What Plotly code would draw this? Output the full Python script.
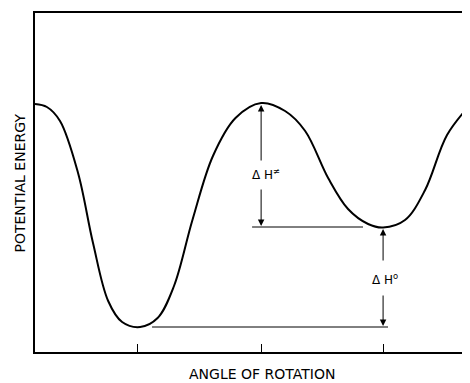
import plotly.graph_objects as go

# Curve (angle in degrees, energy in arbitrary units)
angle = [10.2, 16.0, 22.4, 31.2, 38.5, 45.9, 52.7, 61.5, 70.0, 78.0, 87.0,
         97.0, 108.0, 120.5, 132.2, 142.0, 153.2, 162.9, 172.7, 180.0,
         190.7, 200.5, 211.2, 222.4]
energy = [24.8, 24.5, 23.1, 17.9, 10.9, 5.1, 3.0, 2.5, 3.4, 6.6, 13.2,
          19.6, 23.4, 24.9, 24.1, 22.1, 17.4, 14.3, 12.8, 12.45,
          13.2, 16.2, 21.7, 24.7]

tick_angles = [60, 120.5, 180]

# Reference levels for the enthalpy arrows
e_max = 24.9
e_gauche = 12.5
e_anti = 2.5

x_title = "ANGLE OF ROTATION"
y_title = "POTENTIAL ENERGY"

fig = go.Figure()
fig.add_trace(go.Scatter(x=angle, y=energy, mode="lines",
                         line=dict(color="black", width=2, shape="spline", smoothing=1.0),
                         hoverinfo="skip", showlegend=False))

# horizontal reference lines
fig.add_trace(go.Scatter(x=[116.1, 170.2], y=[e_gauche, e_gauche], mode="lines",
                         line=dict(color="black", width=1), showlegend=False, hoverinfo="skip"))
fig.add_trace(go.Scatter(x=[67.3, 182.4], y=[e_anti, e_anti], mode="lines",
                         line=dict(color="black", width=1), showlegend=False, hoverinfo="skip"))

arrow_kw = dict(xref="x", yref="y", axref="x", ayref="y", text="", showarrow=True,
                arrowhead=2, arrowsize=1.3, arrowwidth=1, arrowcolor="black")
# Delta H double-dagger
fig.add_annotation(x=120.5, y=e_max - 0.2, ax=120.5, ay=19.0, **arrow_kw)
fig.add_annotation(x=120.5, y=e_gauche + 0.1, ax=120.5, ay=16.4, **arrow_kw)
# Delta H zero
fig.add_annotation(x=180, y=e_gauche - 0.2, ax=180, ay=9.0, **arrow_kw)
fig.add_annotation(x=180, y=e_anti + 0.1, ax=180, ay=5.8, **arrow_kw)

lab_font = dict(family="DejaVu Sans", size=12, color="black")
fig.add_annotation(x=123.0, y=17.8, xref="x", yref="y", text="Δ H<sup>≠</sup>",
                   showarrow=False, font=lab_font)
fig.add_annotation(x=181.0, y=7.3, xref="x", yref="y", text="Δ H<sup>o</sup>",
                   showarrow=False, font=lab_font)

axis_font = dict(family="DejaVu Sans", size=14, color="black")
fig.add_annotation(x=0.522, y=-0.065, xref="paper", yref="paper", text=x_title,
                   showarrow=False, font=axis_font, xanchor="center", yanchor="middle")
fig.add_annotation(x=-0.0345, y=0.50, xref="paper", yref="paper", text=y_title,
                   showarrow=False, font=axis_font, textangle=-90,
                   xanchor="center", yanchor="middle")

# The page adds an 8px body margin, so the figure is sized to end at the window edge.
fig.update_layout(
    width=462, height=375,
    margin=dict(l=27, r=0, t=5, b=31),
    paper_bgcolor="white", plot_bgcolor="white",
    xaxis=dict(range=[10.2, 222.4], showgrid=False, zeroline=False,
               showline=True, linecolor="black", linewidth=2, mirror=True,
               tickvals=tick_angles, ticks="inside", ticklen=8, tickwidth=1,
               tickcolor="black", showticklabels=False),
    yaxis=dict(range=[0, 33.9], showgrid=False, zeroline=False,
               showline=True, linecolor="black", linewidth=1.5,
               showticklabels=False, ticks=""),
)

fig.write_html("out.html")
